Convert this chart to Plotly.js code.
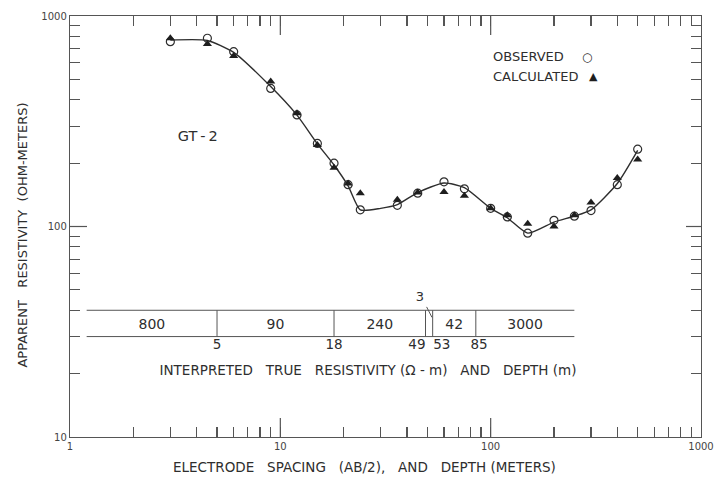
<!DOCTYPE html>
<html>
<head>
<meta charset="utf-8">
<script src="https://cdn.plot.ly/plotly-3.0.1.min.js"></script>
<style>html,body{margin:0;padding:0;background:#fff;}#chart{width:726px;height:480px;}</style>
</head>
<body>
<div id="chart"></div>
<script>
// ---- data ----
const spacing = [3, 4.5, 6, 9, 12, 15, 18, 21, 24, 36, 45, 60, 75, 100, 120, 150, 200, 250, 300, 400, 500];
const observed = [755, 784, 677, 453, 339, 248, 200, 158, 120, 126, 144, 163, 151, 122, 111, 93, 107, 112, 119, 158, 233];
const calculated = [784, 736, 645, 488, 345, 244, 190, 160, 144, 134, 145, 146, 140, 122, 113, 103, 100, 113, 130, 170, 208];
const curveX = [3, 4.5, 6, 9, 12, 15, 18, 21, 24, 30, 36, 45, 60, 75, 100, 120, 150, 200, 250, 300, 400, 500];
const curveY = [768, 765, 672, 462, 338, 247, 196, 156, 120, 122, 127, 145, 161, 153, 122, 110, 93, 105, 112, 120, 160, 230];

// interpreted layers
const depths = [5, 18, 49, 53, 85];
const depthLabels = ['5', '18', '49', '53', '85'];
const depthLabelX = [5, 18, 44.6, 58.6, 88];
const resistivities = ['800', '90', '240', '3', '42', '3000'];
const tableLeft = 1.2, tableRight = 250;
const tableTop = 40, tableBottom = 30;

const xTicks = [1, 10, 100, 1000];
const yTicks = [10, 100, 1000];
const minorX = [2,3,4,5,6,7,8,9,20,30,40,50,60,70,80,90,200,300,400,500,600,700,800,900];
const minorY = [20,30,40,50,60,70,80,90,200,300,400,500,600,700,800,900];

const ink = '#2e2e2e';
const axc = '#555';
const FONT = 'DejaVu Sans, Liberation Sans, sans-serif';
const sp = n => '\u00A0'.repeat(n);

const xRange = [0, 3], yRange = [1, 3];
const pxPerDecX = 631 / 3, pxPerDecY = 421 / 2;

// table geometry built from the arrays
const bounds = [tableLeft].concat(depths, [tableRight]);
const tx = [tableLeft, tableRight, null, tableLeft, tableRight];
const ty = [tableTop, tableTop, null, tableBottom, tableBottom];
depths.forEach(d => { tx.push(null, d, d); ty.push(null, tableBottom, tableTop); });
const midRes = Math.sqrt(tableTop * tableBottom) * 0.98;
const resX = [], resY = [], resT = [];
resistivities.forEach((r, i) => {
  if (r === '3') return;
  resX.push(Math.sqrt(bounds[i] * bounds[i + 1])); resY.push(midRes); resT.push(r);
});

// long decade ticks (the axis draws the short ones), as separate segments
const tickSegs = [];
const yLo = Math.pow(10, yRange[0]), yHi = Math.pow(10, yRange[1]);
const xLo = Math.pow(10, xRange[0]), xHi = Math.pow(10, xRange[1]);
xTicks.slice(1, -1).forEach(v => {
  tickSegs.push({x: [v, v], y: [yLo, Math.pow(10, yRange[0] + 19 / pxPerDecY)]});
  tickSegs.push({x: [v, v], y: [yHi, Math.pow(10, yRange[1] - 19 / pxPerDecY)]});
});
yTicks.slice(1, -1).forEach(v => {
  tickSegs.push({x: [xLo, Math.pow(10, xRange[0] + 17 / pxPerDecX)], y: [v, v]});
  tickSegs.push({x: [xHi, Math.pow(10, xRange[1] - 15 / pxPerDecX)], y: [v, v]});
});

const traces = tickSegs.map(s => ({x: s.x, y: s.y, mode: 'lines', line: {color: axc, width: 1.2}, hoverinfo: 'skip', cliponaxis: false}));
traces.push(
  {x: curveX, y: curveY, mode: 'lines', line: {color: ink, width: 1.4, shape: 'spline', smoothing: 0.6}, hoverinfo: 'skip'},
  {x: spacing, y: observed, mode: 'markers', marker: {symbol: 'circle-open', size: 8, color: ink, line: {width: 1.2, color: ink}}},
  {x: spacing, y: calculated, mode: 'markers', marker: {symbol: 'triangle-up', size: 8, color: '#1e1e1e'}},
  {x: tx, y: ty, mode: 'lines', line: {color: axc, width: 1}, hoverinfo: 'skip'},
  {x: [49.6, 52.6], y: [41.5, 37], mode: 'lines', line: {color: axc, width: 1}, hoverinfo: 'skip'},
  {x: resX, y: resY, mode: 'text', text: resT, textfont: {family: FONT, size: 14, color: ink}},
  {x: [46.1], y: [45.7], mode: 'text', text: ['3'], textfont: {family: FONT, size: 13, color: ink}},
  {x: depthLabelX, y: depthLabelX.map(() => 27.3), mode: 'text', text: depthLabels, textfont: {family: FONT, size: 13.5, color: ink}},
  {x: [26.1], y: [20.4], mode: 'text',
   text: ['INTERPRETED' + sp(3) + 'TRUE' + sp(3) + 'RESISTIVITY' + sp(1) + '(Ω - m)' + sp(3) + 'AND' + sp(3) + 'DEPTH' + sp(1) + '(m)'],
   textfont: {family: FONT, size: 13.5, color: ink}},
  {x: [4.05], y: [266], mode: 'text', text: ['GT\u2009-\u20092'], textfont: {family: FONT, size: 14.5, color: ink}}
);

const allX = xTicks.concat(minorX).sort((a, b) => a - b);
const allY = yTicks.concat(minorY).sort((a, b) => a - b);
const lab = v => (v === 1 || v === 10 || v === 100 || v === 1000) ? String(v) : '';

const base = {
  type: 'log', showgrid: false, zeroline: false, showline: true, linecolor: axc, linewidth: 1.2,
  mirror: 'ticks', ticks: 'inside', ticklen: 10, tickwidth: 1.1, tickcolor: axc,
  tickfont: {family: FONT, size: 10, color: '#444'}
};

const layout = {
  width: 726, height: 480,
  margin: {l: 70, r: 25, t: 16, b: 43},
  paper_bgcolor: '#fff', plot_bgcolor: '#fff',
  showlegend: false,
  font: {family: FONT, color: ink},
  xaxis: Object.assign({}, base, {range: xRange, tickvals: allX, ticktext: allX.map(lab)}),
  yaxis: Object.assign({}, base, {range: yRange, tickvals: allY, ticktext: allY.map(lab)}),
  annotations: [
    {xref: 'paper', yref: 'paper', x: 0.667, y: 0.903, xanchor: 'left', yanchor: 'middle', showarrow: false,
     text: 'OBSERVED', font: {family: FONT, size: 13, color: ink}},
    {xref: 'paper', yref: 'paper', x: 0.819, y: 0.903, xanchor: 'center', yanchor: 'middle', showarrow: false,
     text: '○', font: {family: FONT, size: 12, color: ink}},
    {xref: 'paper', yref: 'paper', x: 0.667, y: 0.857, xanchor: 'left', yanchor: 'middle', showarrow: false,
     text: 'CALCULATED', font: {family: FONT, size: 13, color: ink}},
    {xref: 'paper', yref: 'paper', x: 0.830, y: 0.857, xanchor: 'center', yanchor: 'middle', showarrow: false,
     text: '▲', font: {family: FONT, size: 11, color: '#1e1e1e'}},
    {xref: 'paper', yref: 'paper', x: -0.075, y: 0.48, xanchor: 'center', yanchor: 'middle', showarrow: false, textangle: -90,
     text: 'APPARENT' + sp(3) + 'RESISTIVITY' + sp(2) + '(OHM-METERS)', font: {family: FONT, size: 13, color: ink}},
    {xref: 'paper', yref: 'paper', x: 0.466, y: -0.071, xanchor: 'center', yanchor: 'middle', showarrow: false,
     text: 'ELECTRODE' + sp(3) + 'SPACING' + sp(3) + '(AB/2),' + sp(3) + 'AND' + sp(3) + 'DEPTH' + sp(1) + '(METERS)',
     font: {family: FONT, size: 13.5, color: ink}}
  ]
};

Plotly.newPlot('chart', traces, layout, {displayModeBar: false, staticPlot: true});
</script>
</body>
</html>
